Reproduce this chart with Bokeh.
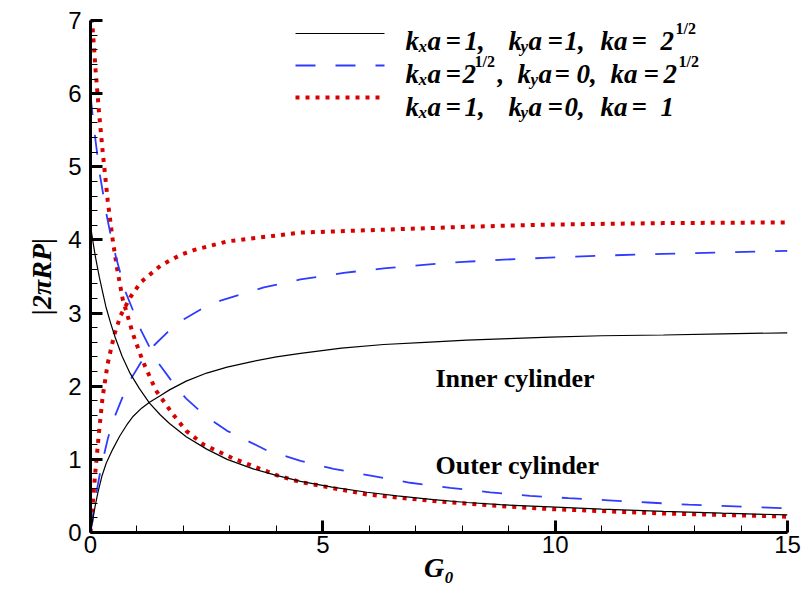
import math
from bokeh.plotting import figure
from bokeh.models import Range1d, SingleIntervalTicker
from bokeh.core.properties import value
from bokeh.embed import file_html
from bokeh.resources import INLINE

# ---------------- data ----------------
black_outer_g = [0.0, 0.03, 0.10, 0.19, 0.26, 0.33, 0.43, 0.53, 0.68, 0.84, 1.05, 1.27, 1.50, 1.70, 2.06, 2.50, 2.94,
                 3.50, 4.00, 4.52, 5.20, 5.95, 6.60, 7.38, 8.10, 8.82, 9.89, 11.0, 12.33, 13.6, 15.0]
black_outer_v = [4.20, 4.07, 3.79, 3.49, 3.29, 3.09, 2.87, 2.67, 2.41, 2.19, 1.97, 1.77, 1.61, 1.49, 1.31, 1.14, 1.00,
                 0.87, 0.78, 0.70, 0.62, 0.55, 0.50, 0.45, 0.41, 0.38, 0.35, 0.32, 0.29, 0.265, 0.24]

black_inner_g = [0.0, 0.05, 0.10, 0.16, 0.25, 0.34, 0.48, 0.63, 0.78, 0.92, 1.10, 1.27, 1.50, 1.70, 2.06, 2.50, 2.94,
                 3.50, 4.00, 4.52, 5.40, 6.31, 7.20, 8.10, 9.00, 9.89, 11.0, 12.33, 13.6, 15.0]
black_inner_v = [0.0, 0.18, 0.36, 0.55, 0.78, 0.95, 1.14, 1.32, 1.47, 1.59, 1.70, 1.78, 1.87, 1.95, 2.07, 2.18, 2.26,
                 2.34, 2.40, 2.45, 2.52, 2.57, 2.60, 2.63, 2.65, 2.67, 2.69, 2.70, 2.715, 2.73]

blue_outer_g = [0.0, 0.05, 0.10, 0.16, 0.20, 0.28, 0.35, 0.43, 0.55, 0.76, 1.09, 1.41, 1.84, 2.06, 2.50, 2.94, 3.80,
                4.52, 5.23, 6.09, 6.88, 7.74, 8.60, 9.46, 10.29, 11.15, 12.00, 12.87, 13.73, 14.59, 15.0]
blue_outer_v = [5.98, 5.68, 5.40, 5.10, 4.90, 4.60, 4.33, 4.08, 3.76, 3.28, 2.76, 2.36, 1.99, 1.83, 1.58, 1.39, 1.12,
                0.98, 0.87, 0.77, 0.68, 0.61, 0.55, 0.50, 0.47, 0.44, 0.41, 0.38, 0.36, 0.34, 0.33]

blue_inner_g = [0.0, 0.05, 0.12, 0.23, 0.38, 0.53, 0.69, 0.87, 1.09, 1.37, 1.66, 2.02, 2.40, 2.80, 3.73, 4.52, 5.45,
                6.31, 7.17, 8.03, 8.89, 9.75, 11.0, 12.33, 13.6, 15.0]
blue_inner_v = [0.0, 0.22, 0.52, 0.90, 1.30, 1.60, 1.85, 2.10, 2.33, 2.56, 2.74, 2.92, 3.06, 3.17, 3.35, 3.46, 3.55,
                3.61, 3.66, 3.70, 3.73, 3.755, 3.785, 3.81, 3.83, 3.85]

red_outer_g = [0.0, 0.05, 0.11, 0.18, 0.26, 0.37, 0.48, 0.58, 0.69, 0.91, 1.12, 1.41, 1.77, 2.06, 2.44, 3.08, 4.02,
               4.52, 5.95, 7.38, 8.82, 9.89, 12.33, 14.80, 15.0]
red_outer_v = [7.30, 6.86, 6.32, 5.77, 5.22, 4.54, 3.99, 3.58, 3.20, 2.72, 2.35, 1.94, 1.62, 1.39, 1.20, 1.01, 0.78,
               0.69, 0.52, 0.43, 0.36, 0.32, 0.26, 0.22, 0.215]

red_inner_g = [0.0, 0.05, 0.10, 0.18, 0.26, 0.37, 0.51, 0.65, 0.86, 1.08, 1.51, 1.95, 2.22, 2.94, 4.52, 6.31, 8.10,
               9.89, 12.33, 15.0]
red_inner_v = [0.0, 0.40, 0.80, 1.35, 1.85, 2.31, 2.70, 2.97, 3.22, 3.42, 3.65, 3.80, 3.86, 3.98, 4.10, 4.14, 4.18,
               4.21, 4.23, 4.24]

x_ticks_interval = 5
y_ticks_interval = 1

legend_row1 = ["k", "x", "a", "=", "1,", "k", "y", "a", "=", "1,", "ka", "=", "2", "1/2"]
legend_row2 = ["k", "x", "a", "=", "2", "1/2", ",", "k", "y", "a", "=", "0,", "ka", "=", "2", "1/2"]
legend_row3 = ["k", "x", "a", "=", "1,", "k", "y", "a", "=", "0,", "ka", "=", "1"]

inner_label = "Inner cylinder"
outer_label = "Outer cylinder"
x_label = "G\u2080"
y_label = "|2\u03c0RP|"

# ---------------- figure ----------------
W, H = 806, 593
FL, FT, FW, FH = 90, 20, 697, 512   # frame left/top/width/height in canvas px

p = figure(width=W, height=H, output_backend="svg", toolbar_location=None,
           x_range=Range1d(0, 15), y_range=Range1d(0, 7),
           min_border_left=FL, min_border_right=W - FL - FW,
           min_border_top=FT, min_border_bottom=H - FT - FH)
p.xgrid.visible = False
p.ygrid.visible = False
p.outline_line_color = None
p.background_fill_color = "white"
p.border_fill_color = "white"

p.xaxis.ticker = SingleIntervalTicker(interval=x_ticks_interval, num_minor_ticks=5)
p.yaxis.ticker = SingleIntervalTicker(interval=y_ticks_interval, num_minor_ticks=5)
for ax in (p.xaxis[0], p.yaxis[0]):
    ax.axis_line_width = 3
    ax.axis_line_color = "black"
    ax.major_tick_in = 12
    ax.major_tick_out = 0
    ax.major_tick_line_width = 3
    ax.major_tick_line_color = "black"
    ax.minor_tick_in = 7
    ax.minor_tick_out = 0
    ax.minor_tick_line_width = 1
    ax.minor_tick_line_color = "black"
    ax.major_label_text_font = "Liberation Sans"
    ax.major_label_text_font_size = "24px"
    ax.major_label_text_color = "black"
    ax.axis_label_text_font = "Liberation Serif"
    ax.axis_label_text_font_size = "28px"
    ax.axis_label_text_font_style = "bold italic"
    ax.axis_label_text_color = "black"
p.yaxis.major_label_standoff = 9
p.xaxis.major_label_standoff = 3
p.yaxis.axis_label = y_label
p.xaxis.axis_label = x_label
p.yaxis.axis_label_standoff = 8
p.xaxis.axis_label_standoff = -4

# canvas-pixel -> data helpers
def dx(px):
    return (px - FL) * 15.0 / FW

def dy(py):
    return (FT + FH - py) * 7.0 / FH

RED = "#d90000"
BLUE = "#2f3cff"
red_style = dict(line_color=RED, line_width=4, line_dash="4 6", line_cap="butt")
blue_style = dict(line_color=BLUE, line_width=1.8, line_dash="20 20")
black_style = dict(line_color="black", line_width=1.2)

p.line(red_outer_g, red_outer_v, **red_style)
p.line(red_inner_g, red_inner_v, **red_style)
p.line(blue_outer_g, blue_outer_v, **blue_style)
p.line(blue_inner_g, blue_inner_v, **blue_style)
p.line(black_outer_g, black_outer_v, **black_style)
p.line(black_inner_g, black_inner_v, **black_style)

# legend lines
for py, st in ((33, black_style), (65, blue_style), (97, red_style)):
    p.line([dx(295), dx(384)], [dy(py), dy(py)], **st)

# text pieces grouped by style
groups = {"m": ([], [], []), "s": ([], [], []), "u": ([], [], [])}

def add_row(pieces, kinds, xs, base):
    for t, k, x in zip(pieces, kinds, xs):
        off = {"m": 0, "s": 6, "u": -12}[k]
        gx, gy, gt = groups[k]
        gx.append(dx(x))
        gy.append(dy(base + off))
        gt.append(t)

add_row(legend_row1, list("msmmmmsmmmmmmu"),
        [405, 418, 427, 445, 464, 508, 520, 528, 547, 564, 600, 631, 660, 675], 40)
add_row(legend_row2, list("msmmmummsmmmmmmu"),
        [405, 418, 427, 445, 462, 474, 497, 517, 530, 538, 554, 576, 610, 643, 663, 678], 73)
add_row(legend_row3, list("msmmmmsmmmmmm"),
        [405, 418, 427, 445, 464, 508, 520, 528, 547, 564, 600, 631, 660], 106)

styles = {"m": ("27px", "bold italic"), "s": ("17px", "bold italic"), "u": ("16px", "bold")}
for k, (gx, gy, gt) in groups.items():
    size, fstyle = styles[k]
    p.text(x=gx, y=gy, text=gt, text_font=value("Liberation Serif"), text_font_size=value(size),
           text_font_style=fstyle, text_color="black", text_align="left", text_baseline="alphabetic")

p.text(x=[dx(435), dx(435)], y=[dy(378), dy(465)], text=[inner_label, outer_label],
       text_font=value("Liberation Serif"), text_font_size=value("26px"), text_font_style="bold",
       text_color="black", text_align="left", text_baseline="alphabetic")

open("out.html", "w").write(file_html(p, INLINE))
